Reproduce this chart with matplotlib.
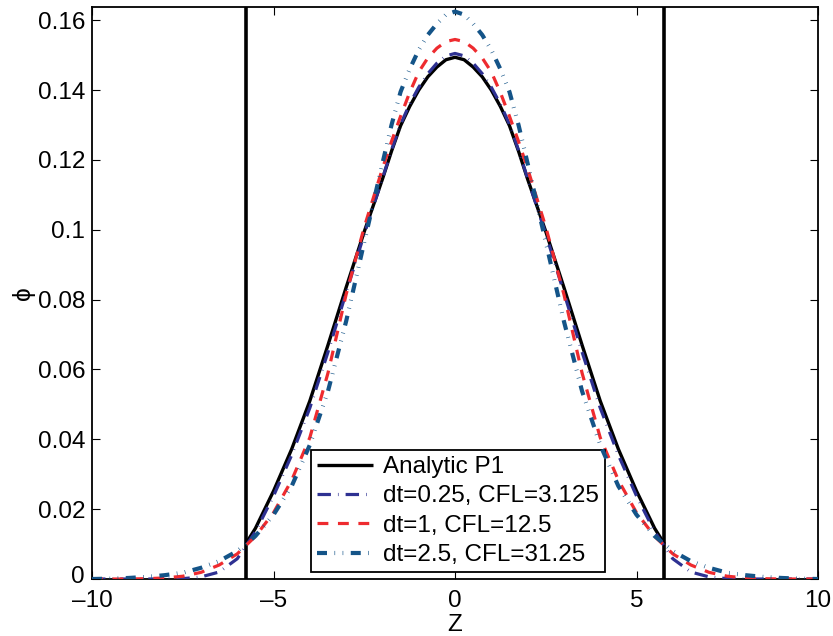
import numpy as np
import matplotlib
matplotlib.use("Agg")
import matplotlib.pyplot as plt
from matplotlib.ticker import FuncFormatter
from matplotlib.transforms import ScaledTranslation

# ---------------- data ----------------
z_num = [-10, -9.5, -9, -8.5, -8, -7.5, -7, -6.5, -6, -5.5, -5, -4.5, -4,
         -3.5, -3, -2.5, -2, -1.75, -1.5, -1.25, -1, -0.75, -0.5, -0.25, 0,
         0.25, 0.5, 0.75, 1, 1.25, 1.5, 1.75, 2, 2.5, 3, 3.5, 4, 4.5, 5,
         5.5, 6, 6.5, 7, 7.5, 8, 8.5, 9, 9.5, 10]

phi_dt025 = [0, 0, 0, 0, 0, 0.0001, 0.0006, 0.0020, 0.0058, 0.0135, 0.0238,
             0.0355, 0.0490, 0.0650, 0.0820, 0.0988, 0.1147, 0.1228, 0.1302,
             0.1360, 0.1408, 0.1447, 0.1477, 0.1498, 0.1505, 0.1498, 0.1477,
             0.1447, 0.1408, 0.1360, 0.1302, 0.1228, 0.1147, 0.0988, 0.0820,
             0.0650, 0.0490, 0.0355, 0.0238, 0.0135, 0.0058, 0.0020, 0.0006,
             0.0001, 0, 0, 0, 0, 0]

phi_dt1 = [0, 0, 0, 0.0001, 0.0003, 0.0008, 0.0019, 0.0040, 0.0072, 0.0122,
           0.0190, 0.0283, 0.0405, 0.0590, 0.0815, 0.1008, 0.1175, 0.1253,
           0.1325, 0.1393, 0.1452, 0.1492, 0.1520, 0.1539, 0.1545, 0.1539,
           0.1520, 0.1492, 0.1452, 0.1393, 0.1325, 0.1253, 0.1175, 0.1008,
           0.0815, 0.0590, 0.0405, 0.0283, 0.0190, 0.0122, 0.0072, 0.0040,
           0.0019, 0.0008, 0.0003, 0.0001, 0, 0, 0]

phi_dt25 = [0.0, 0.0001, 0.0003, 0.0006, 0.0011, 0.0018, 0.0032, 0.0051,
            0.0080, 0.0123, 0.0184, 0.0266, 0.0384, 0.0538, 0.0738, 0.0965,
            0.1190, 0.1300, 0.1395, 0.1460, 0.1515, 0.1558, 0.1590, 0.1616,
            0.1625, 0.1616, 0.1590, 0.1558, 0.1515, 0.1460, 0.1395, 0.1300,
            0.1190, 0.0965, 0.0738, 0.0538, 0.0384, 0.0266, 0.0184, 0.0123,
            0.0080, 0.0051, 0.0032, 0.0018, 0.0011, 0.0006, 0.0003, 0.0001,
            0.0]

z_an = [-5.77, -5.5, -5.0, -4.5, -4.0, -3.5, -3.0, -2.5, -2.0, -1.75, -1.5,
        -1.25, -1.0, -0.75, -0.5, -0.25, 0.0, 0.25, 0.5, 0.75, 1.0, 1.25,
        1.5, 1.75, 2.0, 2.5, 3.0, 3.5, 4.0, 4.5, 5.0, 5.5, 5.77]
phi_an = [0.0100, 0.0145, 0.0252, 0.0372, 0.0510, 0.0670, 0.0835, 0.0995,
          0.1145, 0.1225, 0.1298, 0.1353, 0.1400, 0.1438, 0.1466, 0.1487,
          0.1494, 0.1487, 0.1466, 0.1438, 0.1400, 0.1353, 0.1298, 0.1225,
          0.1145, 0.0995, 0.0835, 0.0670, 0.0510, 0.0372, 0.0252, 0.0145,
          0.0100]

front_positions = [-5.77, 5.77]

labels = ["Analytic P1", "dt=0.25, CFL=3.125", "dt=1, CFL=12.5",
          "dt=2.5, CFL=31.25"]
xticks = [-10, -5, 0, 5, 10]
yticks = [0, 0.02, 0.04, 0.06, 0.08, 0.1, 0.12, 0.14, 0.16]
xlim = (-10, 10)
ylim = (0, 0.1638)

# ---------------- figure ----------------
plt.rcParams['font.family'] = ['Liberation Sans', 'DejaVu Sans']
fs = 17.5

fig = plt.figure(figsize=(8.33, 6.36), dpi=100)
ax = fig.add_axes([0.1105, 0.0896, 0.8715, 0.8994])

c_navy = '#2E3192'
c_red = '#EE2B2F'
c_dblue = '#145488'

ax.plot(z_an, phi_an, color='black', lw=2.4, label=labels[0],
        solid_capstyle='butt', zorder=3)
for zp in front_positions:
    ax.axvline(zp, color='black', lw=2.6, zorder=3)

ax.plot(z_num, phi_dt025, color=c_navy, lw=2.3,
        linestyle=(0, (4.2, 2.2, 0.2, 2.2)), label=labels[1],
        dash_capstyle='butt', zorder=4)
ax.plot(z_num, phi_dt1, color=c_red, lw=2.3,
        linestyle=(0, (3.4, 3.0)), label=labels[2],
        dash_capstyle='butt', zorder=5)
ax.plot(z_num, phi_dt25, color=c_dblue, lw=3.0,
        linestyle=(0, (2.4, 1.8, 0.15, 1.8, 0.15, 1.8)),
        label=labels[3], dash_capstyle='butt', zorder=6)

ax.set_xlim(*xlim)
ax.set_ylim(*ylim)
ax.set_xticks(xticks)
ax.set_yticks(yticks)
ax.yaxis.set_major_formatter(FuncFormatter(lambda v, p: '%g' % v))
ax.xaxis.set_major_formatter(FuncFormatter(lambda v, p: ('%g' % v).replace('-', '\u2013')))
ax.tick_params(direction='in', length=6, width=0.8, top=True, right=True,
               labelsize=fs)
ax.tick_params(axis='y', pad=5)
ax.tick_params(axis='x', pad=8)
for s in ax.spines.values():
    s.set_linewidth(1.3)

# nudge the lowest y tick label up a little so it does not touch "-10"
ylab0 = ax.yaxis.get_major_ticks()[0].label1
ylab0.set_transform(ylab0.get_transform() +
                    ScaledTranslation(0, 3 / 72, fig.dpi_scale_trans))

ax.set_xlabel('Z', fontsize=fs, labelpad=1)
ax.set_ylabel('\u03d5', fontsize=fs, labelpad=2)

leg = ax.legend(loc='lower left', bbox_to_anchor=(0.302, 0.012),
                fontsize=fs, frameon=True, fancybox=False, framealpha=1,
                edgecolor='black', handlelength=2.3, handletextpad=0.4,
                labelspacing=0.3, borderpad=0.25, borderaxespad=0)
leg.get_frame().set_linewidth(1.3)

fig.savefig('out.png', dpi=100)
